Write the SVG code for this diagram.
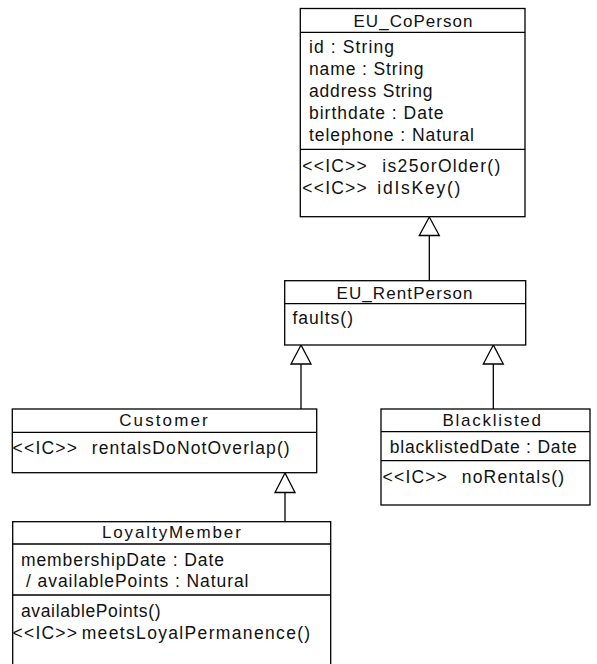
<svg xmlns="http://www.w3.org/2000/svg" width="597" height="664" viewBox="0 0 597 664">
  <style>
    .box { fill: #ffffff; stroke: #000000; stroke-width: 1.3; }
    .sep { stroke: #000000; stroke-width: 1.3; }
    .edge { stroke: #000000; stroke-width: 1.3; fill: none; }
    .head { fill: #ffffff; stroke: #000000; stroke-width: 1.3; stroke-linejoin: miter; }
    text { font-family: "Liberation Sans", Arial, sans-serif; font-size: 17.5px; fill: #111111; white-space: pre; }
    .title { font-size: 17px; }
  </style>

  <!-- generalization connectors -->
  <g id="connectors">
    <line class="edge" x1="429.3" y1="235.5" x2="429.3" y2="280.7"/>
    <polygon class="head" points="429.3,217 419.3,235.5 439.3,235.5"/>

    <line class="edge" x1="301" y1="364" x2="301" y2="409"/>
    <polygon class="head" points="301,345 291,364 311,364"/>

    <line class="edge" x1="493.3" y1="364" x2="493.3" y2="409"/>
    <polygon class="head" points="493.3,345 483.3,364 503.3,364"/>

    <line class="edge" x1="285" y1="492.5" x2="285" y2="521.7"/>
    <polygon class="head" points="285,473 275,492.5 295,492.5"/>
  </g>

  <g id="EU_CoPerson">
    <rect class="box" x="300.3" y="8.5" width="224.7" height="208.2"/>
    <line class="sep" x1="300.3" y1="32.3" x2="525" y2="32.3"/>
    <line class="sep" x1="300.3" y1="149.3" x2="525" y2="149.3"/>
    <text class="title" x="353.5" y="26.7" textLength="119" lengthAdjust="spacing">EU_CoPerson</text>
    <text x="309" y="52.5" textLength="85" lengthAdjust="spacing">id : String</text>
    <text x="309" y="74.5" textLength="114.5" lengthAdjust="spacing">name : String</text>
    <text x="309" y="96.8" textLength="123.5" lengthAdjust="spacing">address String</text>
    <text x="309" y="119" textLength="134.5" lengthAdjust="spacing">birthdate : Date</text>
    <text x="309" y="141" textLength="165" lengthAdjust="spacing">telephone : Natural</text>
    <text y="171.7"><tspan x="302.3" textLength="64.5" lengthAdjust="spacing">&lt;&lt;IC&gt;&gt;</tspan><tspan x="382.3" textLength="118" lengthAdjust="spacing">is25orOlder()</tspan></text>
    <text y="194.3"><tspan x="302.3" textLength="64.5" lengthAdjust="spacing">&lt;&lt;IC&gt;&gt;</tspan><tspan x="377.3" textLength="83" lengthAdjust="spacing">idIsKey()</tspan></text>
  </g>

  <g id="EU_RentPerson">
    <rect class="box" x="284.7" y="280.7" width="241" height="64.3"/>
    <line class="sep" x1="284.7" y1="303.7" x2="525.7" y2="303.7"/>
    <text class="title" x="336.5" y="299.3" textLength="136" lengthAdjust="spacing">EU_RentPerson</text>
    <text x="292.5" y="324.3" textLength="60.5" lengthAdjust="spacing">faults()</text>
  </g>

  <g id="Customer">
    <rect class="box" x="12.3" y="409" width="304.4" height="63.7"/>
    <line class="sep" x1="12.3" y1="432.3" x2="316.7" y2="432.3"/>
    <text class="title" x="119.2" y="426" textLength="88.5" lengthAdjust="spacing">Customer</text>
    <text y="454"><tspan x="12.5" textLength="64.5" lengthAdjust="spacing">&lt;&lt;IC&gt;&gt;</tspan><tspan x="91.7" textLength="198" lengthAdjust="spacing">rentalsDoNotOverlap()</tspan></text>
  </g>

  <g id="Blacklisted">
    <rect class="box" x="381" y="409" width="209" height="96"/>
    <line class="sep" x1="381" y1="431.7" x2="590" y2="431.7"/>
    <line class="sep" x1="381" y1="460.7" x2="590" y2="460.7"/>
    <text class="title" x="442.5" y="426" textLength="98.5" lengthAdjust="spacing">Blacklisted</text>
    <text x="389.8" y="453.3" textLength="187" lengthAdjust="spacing">blacklistedDate : Date</text>
    <text y="483.3"><tspan x="382.5" textLength="64.5" lengthAdjust="spacing">&lt;&lt;IC&gt;&gt;</tspan><tspan x="461.7" textLength="102.5" lengthAdjust="spacing">noRentals()</tspan></text>
  </g>

  <g id="LoyaltyMember">
    <rect class="box" x="12.7" y="521.7" width="318" height="145"/>
    <line class="sep" x1="12.7" y1="544" x2="330.7" y2="544"/>
    <line class="sep" x1="12.7" y1="595" x2="330.7" y2="595"/>
    <text class="title" x="101.9" y="538.3" textLength="139" lengthAdjust="spacing">LoyaltyMember</text>
    <text x="21" y="565.7" textLength="203" lengthAdjust="spacing">membershipDate : Date</text>
    <text x="26" y="586.7" textLength="222.5" lengthAdjust="spacing">/ availablePoints : Natural</text>
    <text x="21" y="616.7" textLength="139.5" lengthAdjust="spacing">availablePoints()</text>
    <text y="638.7"><tspan x="12.5" textLength="64.5" lengthAdjust="spacing">&lt;&lt;IC&gt;&gt;</tspan><tspan x="81.7" textLength="228.5" lengthAdjust="spacing">meetsLoyalPermanence()</tspan></text>
  </g>
</svg>
